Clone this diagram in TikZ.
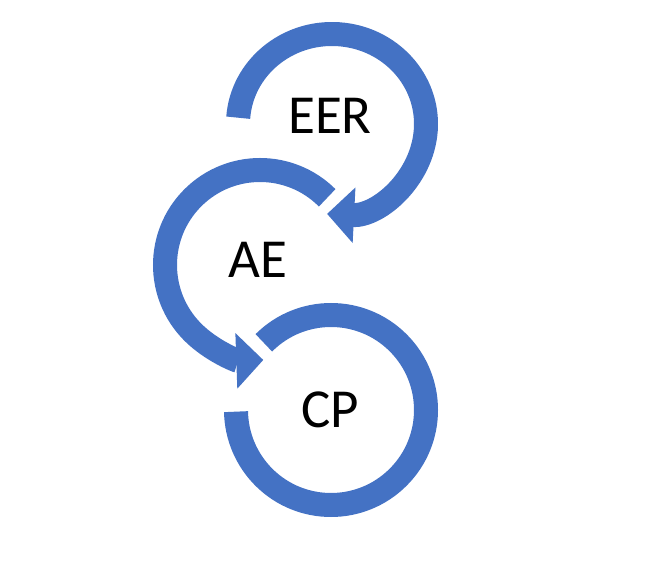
\documentclass[tikz,border=0pt]{standalone}
\usepackage{fontspec}
\setmainfont{Carlito}
\usetikzlibrary{arrows.meta}
\definecolor{ringblue}{HTML}{4472C4}

\begin{document}
\begin{tikzpicture}[
  x=1pt, y=1pt,
  tag/.style={font=\fontsize{55}{60}\selectfont, text=black, inner sep=0pt},
  ring/.style={draw=ringblue, line width=24pt},
  ringarrow/.style={ring, -{Triangle[width=54pt,length=27pt]}}
]
  \useasboundingbox (0,0) rectangle (650,565);

  % centres of the three rings
  \coordinate (eerc) at (332,441);
  \coordinate (aec) at (260,300);
  \coordinate (cpc) at (331,155);

  \node[tag] (eer) at (330,449) {EER};
  \node[tag] (ae) at (258,305) {AE};
  \node[tag] (cp) at (330,155) {CP};

  \draw[ringarrow] ([shift={(176:94pt and 90pt)}]eerc)
    arc[start angle=176, end angle=-93, x radius=94pt, y radius=90pt];
  \draw[ringarrow] ([shift={(45:95pt)}]aec) arc[start angle=45, end angle=272, radius=95pt];
  \draw[ring] ([shift={(135:95pt)}]cpc) arc[start angle=135, end angle=-179, radius=95pt];
\end{tikzpicture}
\end{document}
